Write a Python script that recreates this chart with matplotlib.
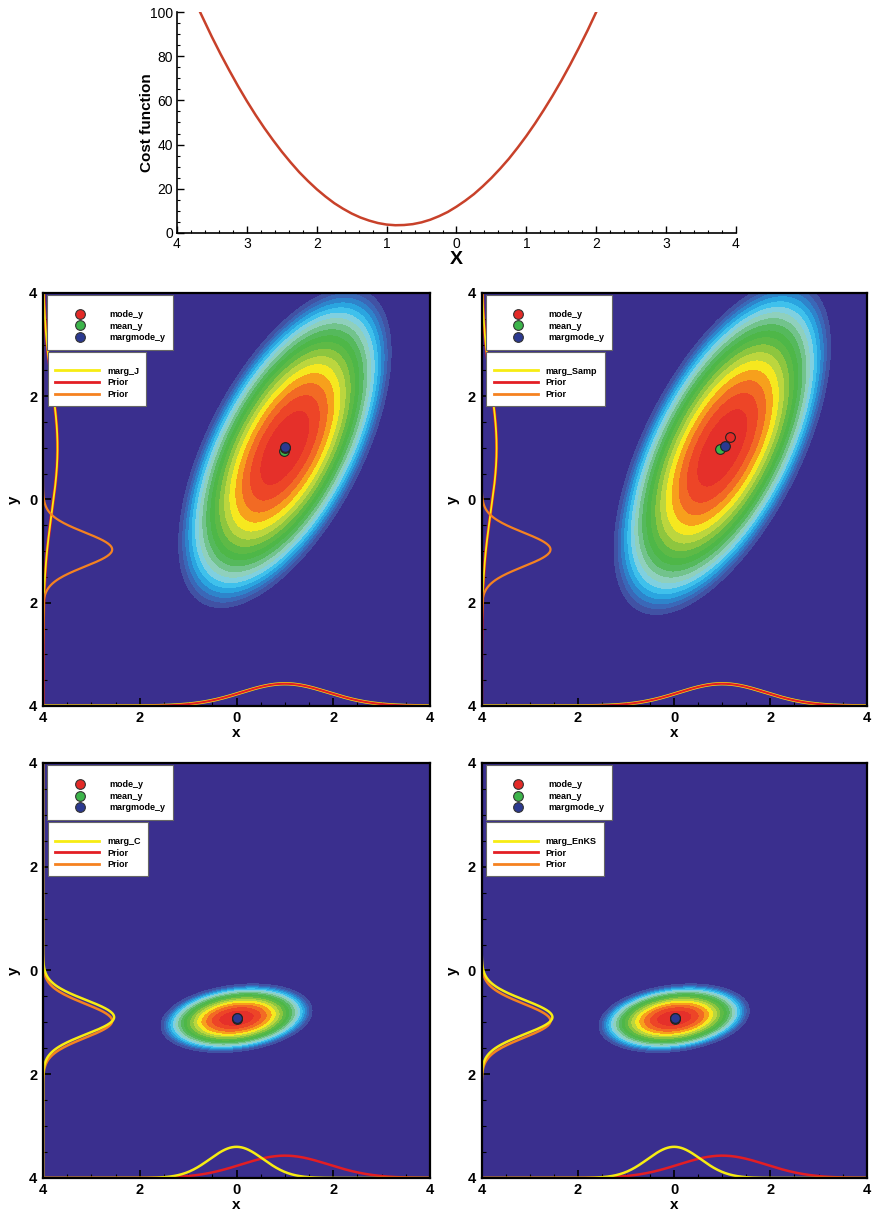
import numpy as np
import matplotlib.pyplot as plt
from matplotlib.lines import Line2D
from matplotlib.ticker import MultipleLocator

plt.rcParams['font.family'] = ['Liberation Sans', 'DejaVu Sans']

# cost function along x
x_cost = np.r_[-3.67, np.arange(-3.5, 2.01, 0.125)]
J_cost = [100.0, 88.7, 80.9, 73.5, 66.4, 59.7, 53.4, 47.5, 42.0, 36.8,
          32.0, 27.5, 23.5, 19.8, 16.5, 13.5, 11.0, 8.8, 7.0, 5.6,
          4.5, 3.8, 3.5, 3.6, 4.0, 4.8, 6.0, 7.6, 9.5, 11.9,
          14.6, 17.6, 21.1, 24.9, 29.1, 33.6, 38.6, 43.9, 49.6, 55.7,
          62.1, 68.9, 76.1, 83.7, 91.6, 100.0]

# posterior densities: mean (x, y), std (x, y), correlation
post_mu_J, post_sd_J, post_rho_J = [1.0, 1.0], [0.83, 1.17], 0.6
post_mu_Samp, post_sd_Samp, post_rho_Samp = [1.0, 1.0], [0.85, 1.22], 0.61
post_mu_C, post_sd_C, post_rho_C = [0.0, -0.92], [0.59, 0.25], 0.22
post_mu_EnKS, post_sd_EnKS, post_rho_EnKS = [0.0, -0.92], [0.59, 0.25], 0.22

# point estimates (x, y): mode, mean, marginal mode
pts_J = [[1.0, 1.0], [0.98, 0.94], [1.0, 1.01]]
pts_Samp = [[1.16, 1.2], [0.96, 0.98], [1.06, 1.04]]
pts_C = [[0.02, -0.92], [0.02, -0.93], [0.02, -0.92]]
pts_EnKS = [[0.02, -0.92], [0.02, -0.93], [0.02, -0.92]]

# 1D curves drawn on the axes: mean, std, peak height (axis units)
prior_x = [1.0, 0.9, 0.43]
prior_y = [-0.97, 0.33, 1.43]
marg_x_J, marg_y_J = [1.0, 0.9, 0.43], [1.0, 1.25, 0.3]
marg_x_Samp, marg_y_Samp = [1.0, 0.9, 0.43], [1.0, 1.25, 0.31]
marg_x_C, marg_y_C = [0.0, 0.55, 0.6], [-0.9, 0.33, 1.47]
marg_x_EnKS, marg_y_EnKS = [0.0, 0.55, 0.6], [-0.9, 0.33, 1.47]

navy = '#3a2f8e'
# filled bands from the centre outwards, equal steps in the quadratic form
band_colors = ['#e5302a', '#ed4527', '#f26a24', '#f7a01c', '#f6e81f', '#bcd63e',
               '#8dc63f', '#5eba46', '#4eb748', '#55b95c', '#72c38c', '#8fd0bd',
               '#7fd0e0', '#3fc1ec', '#2aa5e0', '#2e84cb', '#3a68b8', '#4152a4']
q_max = 7.0
levels = np.linspace(0, q_max, len(band_colors) + 1)
pt_colors = ['#e32a27', '#3cb44a', '#2b3990']
c_yel, c_red, c_org = '#f7ec13', '#e31e24', '#f58220'


def mahal2(X, Y, mu, sd, rho):
    u = (X - mu[0]) / sd[0]
    v = (Y - mu[1]) / sd[1]
    return (u**2 - 2 * rho * u * v + v**2) / (1 - rho**2)


def bump(t, p):
    return p[2] * np.exp(-0.5 * ((t - p[0]) / p[1])**2)


def panel(ax, mu, sd, rho, pts, mx, my, name, top_row):
    g = np.linspace(-4, 4, 500)
    X, Y = np.meshgrid(g, g)
    Q = mahal2(X, Y, mu, sd, rho)
    ax.set_facecolor(navy)
    ax.contourf(X, Y, Q, levels=levels, colors=band_colors)

    # marginals along the edges
    if top_row:
        ax.plot(-4 + bump(g, my), g, color=c_red, lw=2.2)
        ax.plot(-4 + bump(g, my), g, color=c_yel, lw=1.3)
        ax.plot(g, -4 + bump(g, mx), color=c_yel, lw=2.4)
        ax.plot(g, -4 + bump(g, prior_x), color=c_red, lw=1.5)
        ax.plot(-4 + bump(g, prior_y), g, color=c_org, lw=1.6)
    else:
        ax.plot(g, -4 + bump(g, prior_x), color=c_red, lw=1.8)
        ax.plot(g, -4 + bump(g, mx), color=c_yel, lw=1.8)
        ax.plot(-4 + bump(g, prior_y), g, color=c_org, lw=1.8)
        ax.plot(-4 + bump(g, my), g, color=c_yel, lw=1.8)

    # mean first, then mode, marginal mode on top
    for i in (1, 0, 2):
        ax.plot(pts[i][0], pts[i][1], 'o', ms=7, mfc=pt_colors[i], mec='#222222', mew=0.8)

    ax.set_xlim(-4, 4)
    ax.set_ylim(-4, 4)
    ticks = [-4, -2, 0, 2, 4]
    lab = [f'{abs(t):g}' for t in ticks]
    ax.set_xticks(ticks, lab, fontweight='bold', fontsize=10.5)
    ax.set_yticks(ticks, lab, fontweight='bold', fontsize=10.5)
    ax.xaxis.set_minor_locator(MultipleLocator(0.5))
    ax.yaxis.set_minor_locator(MultipleLocator(0.5))
    ax.tick_params(which='major', direction='in', length=6, width=1.2, pad=4)
    ax.tick_params(which='minor', direction='in', length=3, width=0.8)
    for s in ax.spines.values():
        s.set_linewidth(1.6)
    ax.set_xlabel('x', fontweight='bold', fontsize=11, labelpad=0.5)
    ax.set_ylabel('y', fontweight='bold', fontsize=11, labelpad=6)

    h1 = [Line2D([], [], ls='none', marker='o', ms=7, mfc=c, mec='#333333', mew=0.8)
          for c in pt_colors]
    leg1 = ax.legend(h1, ['mode_y', 'mean_y', 'margmode_y'], loc='upper left',
                     bbox_to_anchor=(0.01, 0.995), borderaxespad=0,
                     prop={'size': 6.5, 'weight': 'bold'}, handlelength=5.7,
                     handletextpad=0.47, borderpad=0.8, labelspacing=0.3,
                     fancybox=False, edgecolor='#666666', framealpha=1,
                     title=' ', title_fontsize=4)
    leg1.get_frame().set_linewidth(0.8)
    ax.add_artist(leg1)

    h2 = [Line2D([], [], color=c, lw=2) for c in (c_yel, c_red, c_org)]
    leg2 = ax.legend(h2, [f'marg_{name}', 'Prior', 'Prior'], loc='upper left',
                     bbox_to_anchor=(0.012, 0.858), borderaxespad=0,
                     prop={'size': 6.5, 'weight': 'bold'}, handlelength=4.9,
                     handletextpad=0.9, borderpad=0.8, labelspacing=0.3,
                     fancybox=False, edgecolor='#666666', framealpha=1,
                     title=' ', title_fontsize=4)
    leg2.get_frame().set_linewidth(0.8)


fig = plt.figure(figsize=(8.74, 12.14), dpi=100)

# cost function
ax0 = fig.add_axes([0.2025, 0.8081, 0.6396, 0.1820])
ax0.plot(x_cost, J_cost, color='#c8412a', lw=1.8)
ax0.set_xlim(-4, 4)
ax0.set_ylim(0, 100)
ax0.set_xticks(range(-4, 5), [f'{abs(t):g}' for t in range(-4, 5)], fontsize=10)
ax0.set_yticks(range(0, 101, 20), [str(t) for t in range(0, 101, 20)], fontsize=10)
ax0.xaxis.set_minor_locator(MultipleLocator(0.2))
ax0.yaxis.set_minor_locator(MultipleLocator(5))
ax0.tick_params(which='major', direction='in', length=5, width=1, pad=3)
ax0.tick_params(which='minor', direction='in', length=2.5, width=0.8)
ax0.spines['top'].set_visible(False)
ax0.spines['right'].set_visible(False)
ax0.spines['left'].set_linewidth(1.2)
ax0.spines['bottom'].set_linewidth(1.2)
ax0.set_xlabel('X', fontweight='bold', fontsize=14, labelpad=0)
ax0.set_ylabel('Cost function', fontweight='bold', fontsize=11, labelpad=-3)

axJ = fig.add_axes([0.0492, 0.4185, 0.4428, 0.3402])
axS = fig.add_axes([0.5511, 0.4185, 0.4405, 0.3402])
axC = fig.add_axes([0.0492, 0.0297, 0.4428, 0.3418])
axE = fig.add_axes([0.5511, 0.0297, 0.4405, 0.3418])

panel(axJ, post_mu_J, post_sd_J, post_rho_J, pts_J, marg_x_J, marg_y_J, 'J', True)
panel(axS, post_mu_Samp, post_sd_Samp, post_rho_Samp, pts_Samp, marg_x_Samp,
      marg_y_Samp, 'Samp', True)
panel(axC, post_mu_C, post_sd_C, post_rho_C, pts_C, marg_x_C, marg_y_C, 'C', False)
panel(axE, post_mu_EnKS, post_sd_EnKS, post_rho_EnKS, pts_EnKS, marg_x_EnKS,
      marg_y_EnKS, 'EnKS', False)

fig.savefig('out.png', dpi=100)
